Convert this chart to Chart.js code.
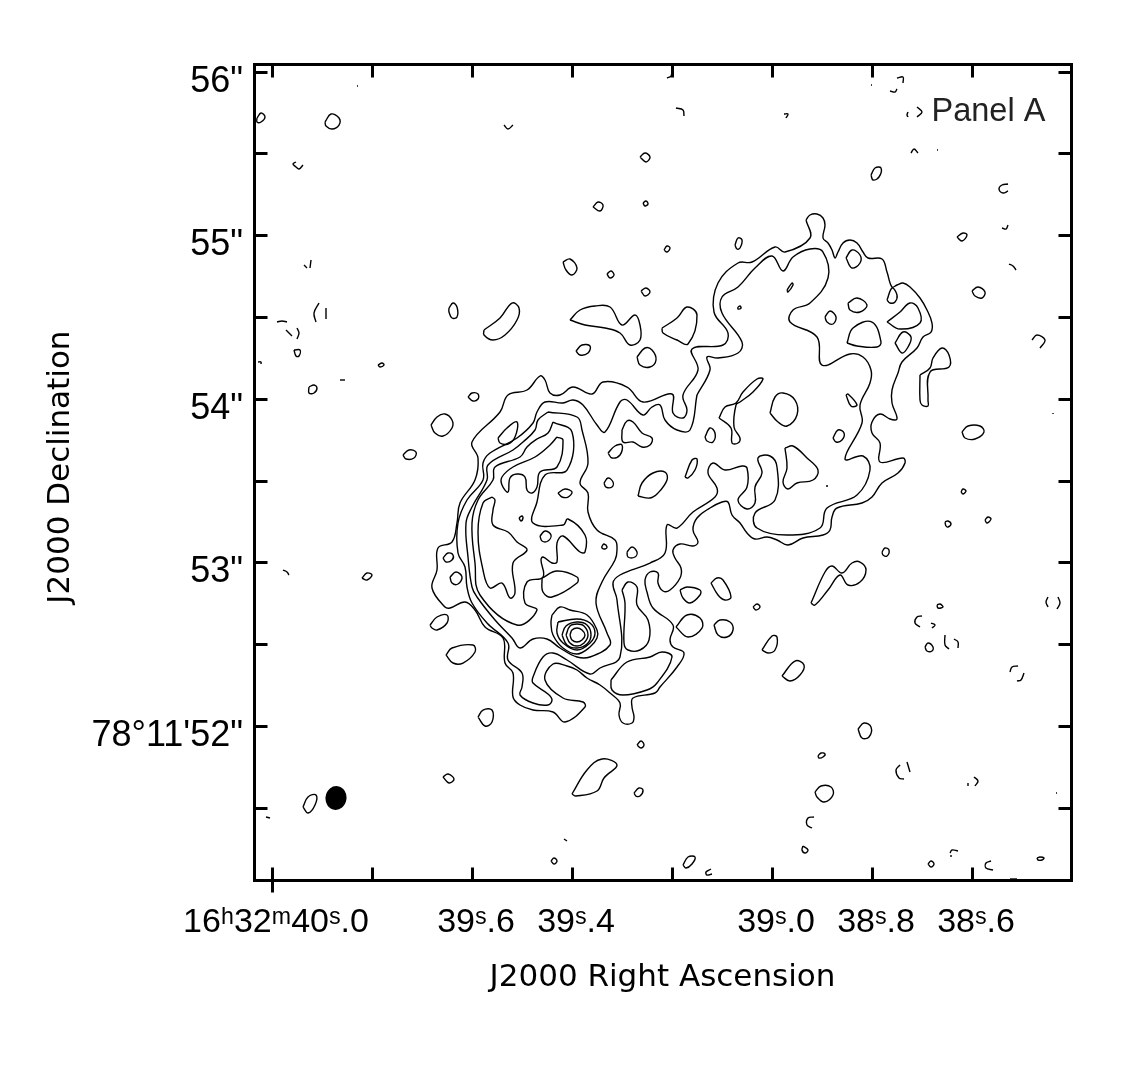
<!DOCTYPE html>
<html>
<head>
<meta charset="utf-8">
<style>
  html, body { margin: 0; padding: 0; background: #fff; }
  canvas { display: block; }
</style>
<script src="https://cdn.jsdelivr.net/npm/chart.js@4"></script>
</head>
<body>
<canvas id="chartId" width="1148" height="1089"></canvas>
<script>
// contours in grid cells: x = cells west->east from RA 40.0s, y = cells north from Dec 52"
// one x cell is 0.002s of time, 163.6 y cells make one arcsecond
const raTicks = [40.0, 39.8, 39.6, 39.4, 39.2, 39.0, 38.8, 38.6];
const raLabels = ['16ʰ32ᵐ40ˢ.0', '', '39ˢ.6', '39ˢ.4', '', '39ˢ.0', '38ˢ.8', '38ˢ.6'];
const decTicks = [56, 55.5, 55, 54.5, 54, 53.5, 53, 52.5, 52, 51.5];
const decLabels = ['56"', '', '55"', '', '54"', '', '53"', '', '78°11\'52"', ''];

const level1 = [534,506, 538,511, 545,512, 551,508, 553,501, 551,488, 556,483, 560,476, 563,468, 566,474, 571,483, 578,486, 585,483, 591,474, 596,468, 610,467, 615,454, 620,439, 625,441, 631,443, 638,439, 648,428, 655,416, 660,403, 659,394, 651,389, 645,378, 630,364, 626,353, 620,336, 620,323, 625,307, 618,307, 608,312, 600,304, 600,293, 608,283, 608,264, 631,268, 633,263, 626,253, 610,243, 600,229, 590,223, 565,218, 560,209, 558,196, 551,191, 531,188, 516,181, 505,186, 495,189, 483,187, 475,193, 468,203, 460,211, 456,224, 450,224, 438,218, 425,208, 421,196, 426,184, 421,180, 408,182, 401,176, 403,168, 409,158, 408,148, 398,136, 391,135, 386,143, 386,153, 378,154, 373,146, 375,134, 381,118, 401,101, 398,86, 401,79, 412,73, 405,59, 388,39, 383,33, 361,28, 360,19, 362,9, 360,3, 351,3, 347,11, 348,23, 338,33, 328,41, 315,48, 305,56, 295,60, 281,62, 273,46, 291,28, 311,24, 313,19, 293,4, 281,14, 261,16, 248,21, 241,29, 241,53, 233,63, 231,88, 213,99, 203,116, 193,124, 178,118, 173,119, 160,138, 165,156, 166,178, 180,184, 185,203, 188,223, 203,246, 206,268, 200,284, 228,314, 236,331, 255,336, 268,350, 273,346, 278,333, 288,331, 301,339, 320,332, 331,344, 355,339, 371,324, 400,332, 401,313, 411,308, 415,316, 411,331, 426,356, 420,377, 451,381, 456,393, 442,414, 446,443, 466,463, 480,464, 503,479, 513,474, 538,488];
const level2 = [425,331, 438,356, 435,369, 446,368, 466,373, 470,384, 450,413, 450,429, 466,439, 483,458, 500,470, 511,455, 521,469, 538,477, 551,474, 556,448, 538,423, 521,416, 518,404, 545,389, 550,361, 578,372, 591,369, 599,356, 598,343, 588,321, 590,303, 573,267, 591,270, 598,256, 585,231, 555,218, 548,198, 515,191, 485,198, 483,213, 503,226, 505,259, 498,270, 486,268, 490,253, 483,239, 483,223, 475,217, 466,226, 475,239, 475,258, 470,260, 453,256, 441,263, 436,253, 445,238, 443,229, 421,214, 405,198, 395,201, 393,173, 378,163, 348,151, 341,143, 345,126, 348,69, 328,58, 318,52, 295,66, 281,73, 271,69, 261,49, 261,43, 276,32, 280,26, 276,21, 261,23, 248,31, 250,39, 250,53, 236,66, 236,83, 215,103, 200,123, 195,139, 193,159, 186,173, 186,203, 195,226, 211,246, 211,263, 218,273, 245,288, 261,303, 265,314, 273,324, 291,323, 301,326, 311,321, 325,301, 333,294, 348,324, 355,326, 371,311, 380,319, 388,321, 393,306, 405,296, 418,296];
const level3 = [276,314, 305,309, 310,296, 316,263, 308,243, 316,233, 316,214, 325,196, 343,186, 345,176, 343,166, 330,144, 324,123, 335,93, 338,81, 318,69, 305,69, 288,78, 275,87, 261,87, 248,78, 240,88, 223,106, 205,129, 200,139, 196,169, 194,203, 200,219, 215,246, 216,261, 241,276, 251,284, 263,296, 266,306];
const level4 = [281,304, 300,294, 295,256, 273,251, 265,224, 261,203, 291,201, 296,207, 313,191, 313,174, 308,174, 291,190, 285,183, 285,164, 280,163, 271,169, 269,166, 271,149, 255,144, 253,123, 265,116, 245,101, 208,131, 203,163, 200,203, 206,226, 221,246, 223,259, 248,269, 255,279, 265,287, 276,293];
const ridgeNorth = [285,289, 291,286, 285,259, 268,254, 265,239, 260,233, 255,236, 253,249, 245,252, 238,248, 236,234, 230,241, 230,249, 241,259, 263,269, 278,281];
const ridgeSouth = [220,229, 211,223, 206,194, 211,156, 218,138, 230,143, 238,128, 243,133, 241,163, 255,176, 245,184, 236,194, 221,201, 221,216, 223,226];
const coreRings = [
  [280,111, 288,119, 298,116, 315,111, 325,96, 325,88, 318,79, 305,72, 291,78, 281,91, 279,103],
  [286,104, 305,107, 318,103, 323,93, 318,83, 305,76, 291,83, 285,93],
  [290,91, 294,100, 305,104, 315,101, 319,91, 315,82, 305,78, 295,81],
  [294,91, 298,100, 305,102, 312,100, 316,91, 312,83, 305,80, 298,83],
  [298,91, 300,96, 305,98, 310,96, 313,91, 310,86, 305,84, 300,86]
];
const islands = [
  [196,329, 200,333, 206,332, 206,327, 201,325],
  [159,301, 165,309, 173,312, 180,306, 180,298, 171,290, 163,293],
  [226,288, 235,298, 245,304, 243,289, 236,282, 228,283],
  [350,296, 355,305, 361,304, 370,293, 380,288, 378,281, 370,279, 361,284, 351,284],
  [336,273, 343,280, 350,281, 348,271, 340,268],
  [332,243, 336,248, 341,244, 340,239, 334,239],
  [286,233, 293,237, 300,234, 296,229, 290,229],
  [247,208, 250,210, 251,208, 249,205],
  [268,190, 273,195, 279,191, 276,185, 270,185],
  [330,180, 332,182, 335,179, 333,177, 330,178],
  [355,174, 360,179, 365,174, 363,169, 356,169],
  [366,230, 370,243, 381,253, 393,254, 395,246, 386,233, 378,228],
  [413,249, 420,266, 425,267, 423,256, 416,248],
  [433,289, 438,298, 443,293, 441,284, 435,285],
  [171,168, 176,173, 181,171, 180,166, 174,164],
  [178,149, 184,154, 190,149, 186,142, 180,143],
  [158,101, 165,109, 175,111, 175,103, 165,96, 160,98],
  [174,71, 180,78, 201,81, 203,74, 191,63, 181,63],
  [206,9, 211,16, 220,16, 220,4, 213,0],
  [408,136, 415,139, 428,136, 428,131, 418,123, 411,128],
  [404,99, 415,111, 428,108, 430,98, 416,89],
  [350,136, 356,144, 365,139, 365,121, 376,106, 377,86, 368,76, 356,76, 352,83, 353,123],
  [339,46, 355,64, 378,69, 390,74, 400,69, 385,43, 375,36, 351,31, 340,36],
  [270,148, 285,155, 305,149, 305,143, 280,129, 271,134],
  [439,143, 445,148, 451,146, 459,129, 453,126, 446,131],
  [442,101, 448,106, 458,104, 461,96, 455,89, 446,91],
  [481,119, 485,122, 488,119, 484,116],
  [490,76, 500,90, 505,89, 503,76, 496,73],
  [510,50, 523,65, 532,61, 528,51, 518,45],
  [586,-3, 592,3, 599,-1, 597,-11, 590,-12],
  [300,-68, 315,-44, 330,-33, 345,-39, 332,-52, 325,-65, 304,-70],
  [365,-19, 369,-15, 372,-19, 369,-22],
  [362,-67, 367,-62, 371,-64, 368,-70, 364,-70],
  [279,-135, 282,-132, 285,-135, 282,-138],
  [411,-139, 416,-131, 423,-131, 420,-138, 414,-142],
  [531,-120, 536,-124, 533,-127, 530,-124],
  [543,-66, 549,-60, 559,-61, 561,-69, 552,-76, 545,-71],
  [546,-30, 549,-27, 553,-28, 551,-31, 547,-32],
  [656,-138, 659,-135, 662,-138, 659,-141],
  [765,-132, 768,-131, 772,-132, 770,-134, 766,-134],
  [31,-81, 36,-71, 44,-69, 43,-79, 36,-87],
  [171,-51, 176,-48, 182,-53, 177,-57],
  [53,604, 59,612, 67,608, 67,601, 60,597, 54,600],
  [-15,608, -11,613, -7,609, -11,604, -15,604],
  [106,361, 110,363, 112,361, 108,359],
  [37,339, 42,341, 45,338, 42,333, 37,333],
  [131,271, 137,276, 144,274, 142,268, 134,267],
  [177,418, 181,423, 185,419, 185,409, 180,408, 177,414],
  [212,396, 228,408, 240,423, 247,418, 245,406, 233,391, 221,386, 212,391],
  [304,375, 310,381, 318,380, 316,373, 308,371],
  [298,406, 308,416, 323,420, 338,419, 350,401, 363,411, 368,401, 368,386, 358,381, 348,393, 333,398, 313,401],
  [365,369, 373,378, 380,376, 384,366, 378,359, 368,361],
  [390,398, 405,408, 415,419, 425,411, 416,382, 405,386, 391,393],
  [463,481, 466,488, 470,486, 468,478, 465,477],
  [392,476, 395,480, 398,478, 395,474],
  [515,436, 520,443, 521,441, 516,434],
  [466,419, 468,420, 469,418, 466,417],
  [574,468, 580,476, 588,471, 588,463, 580,458],
  [576,423, 585,428, 595,421, 588,414, 578,416],
  [553,409, 558,415, 564,409, 561,402, 555,404],
  [575,383, 581,398, 600,404, 609,384, 605,379, 585,380],
  [615,404, 628,414, 638,423, 646,418, 648,403, 628,397],
  [623,383, 631,394, 639,389, 636,379, 630,373],
  [615,426, 620,438, 625,431, 623,424, 618,423],
  [648,351, 658,358, 661,368, 670,378, 677,371, 677,359, 658,354, 656,326, 656,320, 650,321, 648,326],
  [498,313, 503,329, 511,333, 523,326, 525,311, 515,300, 506,304],
  [574,331, 576,332, 585,321, 579,320],
  [561,288, 566,296, 572,293, 570,286, 564,284],
  [513,278, 521,280, 535,268, 546,256, 541,246, 525,243, 516,237, 511,244, 515,258],
  [447,308, 453,319, 464,323, 471,334, 485,347, 491,347, 481,334, 468,324, 464,321, 462,299, 468,288, 466,283, 460,283, 459,298],
  [610,174, 613,178, 617,176, 615,170, 611,171],
  [539,123, 553,154, 560,160, 570,153, 580,163, 588,164, 594,156, 588,144, 576,141, 568,151, 556,136, 543,121],
  [673,204, 676,205, 679,202, 676,199, 674,200],
  [689,234, 691,237, 694,235, 691,232],
  [713,206, 716,209, 719,207, 715,203],
  [665,121, 668,122, 671,119, 666,118],
  [653,79, 656,83, 661,79, 660,75, 655,75],
  [599,551, 603,558, 609,558, 607,549, 601,546],
  [685,489, 691,493, 695,491, 690,485],
  [700,435, 706,439, 713,434, 710,428, 703,430],
  [690,294, 696,300, 708,300, 712,294, 703,287, 693,288],
  [368,569, 373,573, 378,569, 374,564],
  [321,519, 326,524, 331,521, 328,515],
  [371,523, 374,525, 376,522, 373,520],
  [291,464, 298,467, 305,458, 300,451, 294,456],
  [335,452, 339,455, 342,451, 338,448],
  [369,435, 374,438, 378,434, 373,430],
  [90,148, 95,153, 100,151, 95,146],
  [22,376, 24,370, 27,370, 28,376]
];
// broken pieces of the faintest contours, these do not close
const arcs = [
  [-6,-91, -2,-92], [292,-113, 295,-115],
  [439,-143, 434,-146, 435,-149, 440,-148],
  [542,-91, 536,-92, 535,-99, 540,-102],
  [628,-39, 624,-44, 627,-52, 632,-53], [635,-36, 638,-46],
  [702,-51, 706,-55, 703,-60], [696,-57, 696,-60], [784,-67, 785,-67],
  [678,-127, 680,-124, 686,-125], [679,-129, 679,-131],
  [719,-135, 714,-137, 714,-142, 721,-144], [738,-153, 745,-153],
  [85,640, 86,640], [24,564, 21,562, 24,559, 27,557, 31,561],
  [32,461, 35,458], [38,458, 39,466],
  [47,423, 42,413, 44,404], [54,418, 54,407],
  [5,404, 10,405, 15,404], [14,396, 20,390], [25,398, 27,393, 25,387],
  [-14,364, -11,364, -11,362], [68,346, 73,346],
  [554,240, 556,240], [650,110, 645,109, 643,103, 648,99], [659,103, 663,101, 660,98],
  [673,91, 673,81, 677,77], [682,87, 686,84, 686,78],
  [746,60, 740,59, 738,54], [752,53, 749,46, 745,45],
  [776,129, 774,124, 776,119], [786,129, 788,123, 785,117],
  [599,641, 600,641], [625,648, 631,649, 631,643], [618,635, 623,634, 625,637],
  [636,614, 635,611, 636,609], [645,619, 650,614, 645,609],
  [639,573, 642,577, 646,573], [665,576, 666,576],
  [736,542, 730,541, 727,537, 731,533, 736,535], [736,501, 734,497, 730,498],
  [737,462, 741,460, 744,456], [760,386, 765,391, 773,386, 768,378], [781,313, 781,312],
  [404,618, 411,616, 412,610], [232,601, 236,597, 241,601], [400,656, 399,650, 395,648],
  [512,612, 516,612, 514,608], [11,156, 15,154, 17,151]
];
const beamCell = [64, -72];

function toSky(cells, closed) {
  const pts = [];
  for (let i = 0; i < cells.length; i += 2) {
    pts.push({ x: 40 - cells[i] * 0.002, y: 52 + cells[i + 1] / 163.6 });
  }
  if (closed) pts.push(pts[0]);
  return pts;
}

function contour(cells, closed) {
  return {
    data: toSky(cells, closed),
    showLine: true,
    borderColor: '#000',
    borderWidth: 1.4,
    pointRadius: 0,
    tension: 0.4,
    fill: false
  };
}

// the restoring beam, filled ellipse
const beamSprite = document.createElement('canvas');
beamSprite.width = 24;
beamSprite.height = 26;
const bctx = beamSprite.getContext('2d');
bctx.beginPath();
bctx.ellipse(12, 13, 10.5, 12, 0.15, 0, Math.PI * 2);
bctx.fill();

const datasets = [];
[level1, level2, level3, level4, ridgeNorth, ridgeSouth].concat(coreRings, islands).forEach(c => datasets.push(contour(c, true)));
arcs.forEach(c => datasets.push(contour(c, false)));
datasets.push({
  data: toSky(beamCell, false),
  showLine: false,
  pointStyle: beamSprite,
  pointRadius: 12
});

// frame, inward ticks on all four sides and the panel label
const mapFrame = {
  id: 'mapFrame',
  afterDatasetsDraw(chart) {
    const { ctx, chartArea: a, scales: { x, y } } = chart;
    ctx.save();
    ctx.translate(0.5, 0.5); // 3px lines land on whole pixels
    ctx.strokeStyle = '#000';
    ctx.lineWidth = 3;
    ctx.strokeRect(a.left, a.top, a.right - a.left, a.bottom - a.top);
    ctx.beginPath();
    raTicks.forEach((v, i) => {
      const px = Math.round(x.getPixelForValue(v));
      ctx.moveTo(px, a.top);
      ctx.lineTo(px, a.top + 13);
      ctx.moveTo(px, a.bottom - 13);
      ctx.lineTo(px, i === 0 ? a.bottom + 12 : a.bottom); // first tick runs through the frame
    });
    decTicks.forEach(v => {
      const py = Math.round(y.getPixelForValue(v));
      ctx.moveTo(a.left, py);
      ctx.lineTo(a.left + 13, py);
      ctx.moveTo(a.right - 13, py);
      ctx.lineTo(a.right, py);
    });
    ctx.stroke();
    ctx.fillStyle = '#222';
    ctx.font = '32.5px "Liberation Sans"';
    ctx.textAlign = 'left';
    ctx.textBaseline = 'middle';
    ctx.fillText('Panel A', 931, 112);
    ctx.restore();
  }
};

const chart = new Chart(document.getElementById('chartId').getContext('2d'), {
  type: 'scatter',
  data: { datasets },
  options: {
    responsive: false,
    animation: false,
    layout: { padding: { top: 64, right: 77, left: 0, bottom: 0 } },
    plugins: { legend: { display: false }, tooltip: { enabled: false } },
    scales: {
      x: {
        type: 'linear',
        reverse: true,
        min: 38.402,
        max: 40.036,
        afterBuildTicks: s => { s.ticks = raTicks.map(v => ({ value: v })); },
        afterFit: s => { s.height = 209; },
        grid: { display: false },
        border: { display: false },
        ticks: {
          autoSkip: false,
          maxRotation: 0,
          padding: 14,
          labelOffset: 4,
          color: '#000',
          font: { family: '"Liberation Sans"', size: 34 },
          callback: v => raLabels[raTicks.indexOf(v)]
        },
        title: {
          display: true,
          text: 'J2000 Right Ascension',
          color: '#000',
          font: { family: '"DejaVu Sans"', size: 31 },
          padding: { top: 0, bottom: 92 }
        }
      },
      y: {
        type: 'linear',
        min: 51.0587,
        max: 56.0465,
        afterBuildTicks: s => { s.ticks = decTicks.map(v => ({ value: v })); },
        afterFit: s => { s.width = 254; },
        grid: { display: false },
        border: { display: false },
        ticks: {
          autoSkip: false,
          padding: 3,
          labelOffset: 10,
          color: '#000',
          font: { family: '"Liberation Sans"', size: 36 },
          callback: v => decLabels[decTicks.indexOf(v)]
        },
        title: {
          display: true,
          text: ' J2000 Declination',
          color: '#000',
          font: { family: '"DejaVu Sans"', size: 31 },
          padding: { top: 42, bottom: 0 }
        }
      }
    }
  },
  plugins: [mapFrame]
});
</script>
</body>
</html>
